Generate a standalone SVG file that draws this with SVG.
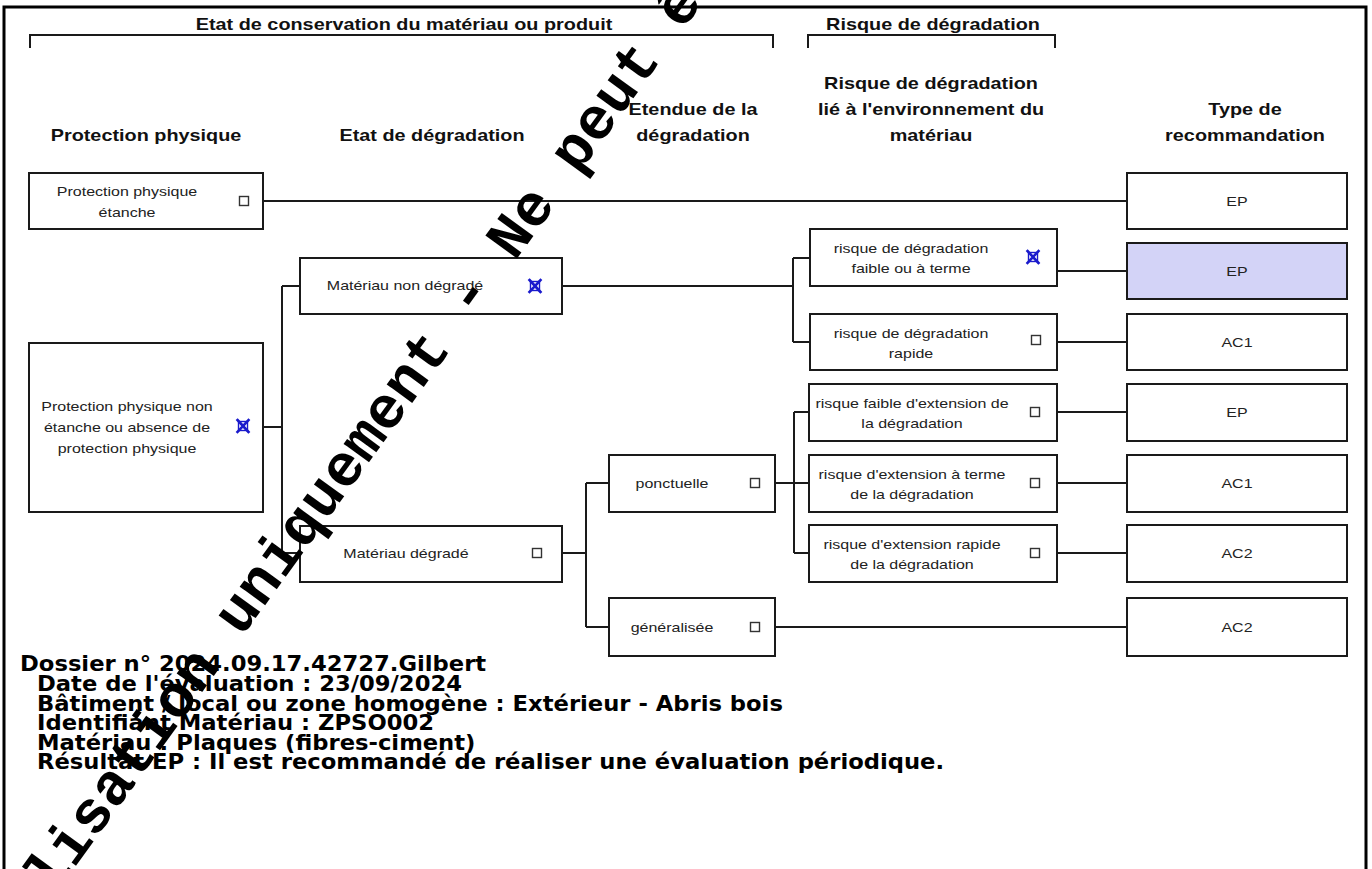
<svg xmlns="http://www.w3.org/2000/svg" xmlns:xlink="http://www.w3.org/1999/xlink" width="1372" height="869" viewBox="0 0 1372 869">
<style>
.box{fill:#fff;stroke:#1a1a1a;stroke-width:2}
.sel{fill:#d3d3f7}
.conn{stroke:#1a1a1a;stroke-width:2;fill:none}
.t{font-family:"Liberation Sans",Arial,sans-serif;font-size:13px;fill:#222;text-anchor:middle}
.h{font-family:"Liberation Sans",Arial,sans-serif;font-size:16px;font-weight:bold;fill:#111;text-anchor:middle}
.cb{fill:#fff;stroke:#333;stroke-width:1.4}
.x{stroke:#1a1acc;stroke-width:2.6;fill:none;stroke-linecap:square}
.xb{fill:none;stroke:#1a1acc;stroke-width:1.4}
.info{font-family:"DejaVu Sans",Verdana,sans-serif;font-size:21px;font-weight:bold;fill:#000}
.wm{font-family:"Liberation Mono","DejaVu Sans Mono",monospace;font-size:59.5px;font-weight:bold;fill:#000}
.frame{fill:none;stroke:#000;stroke-width:3}
</style>
<defs>
<rect id="cb" class="cb" x="-4.5" y="-4.5" width="9" height="9"/>
<g id="cx"><rect class="xb" x="-4.5" y="-4.5" width="9" height="9"/><path class="x" d="M-5.5,-6 L5.5,6 M5.5,-6 L-5.5,6"/></g>
</defs>
<rect x="0" y="0" width="1372" height="869" fill="#fff"/>
<path class="frame" d="M4,869 V7 H1366 V869"/>

<g id="headers">
<path class="conn" d="M30,48 V35 H773 V48"/>
<path class="conn" d="M808,48 V35 H1055 V48"/>
<text class="h" transform="translate(404,30) scale(1.24,1)">Etat de conservation du matériau ou produit</text>
<text class="h" transform="translate(933,30) scale(1.24,1)">Risque de dégradation</text>
<text class="h" transform="translate(146,141) scale(1.24,1)">Protection physique</text>
<text class="h" transform="translate(432,141) scale(1.24,1)">Etat de dégradation</text>
<text class="h" transform="translate(693,115) scale(1.24,1)"><tspan x="0">Etendue de la</tspan><tspan x="0" dy="26">dégradation</tspan></text>
<text class="h" transform="translate(931,89) scale(1.24,1)"><tspan x="0">Risque de dégradation</tspan><tspan x="0" dy="26">lié à l'environnement du</tspan><tspan x="0" dy="26">matériau</tspan></text>
<text class="h" transform="translate(1245,115) scale(1.24,1)"><tspan x="0">Type de</tspan><tspan x="0" dy="26">recommandation</tspan></text>
</g>

<g id="connectors">
<path class="conn" d="M263,201 H1127"/>
<path class="conn" d="M263,427 H282 M282,286 V553 M282,286 H300 M282,553 H300"/>
<path class="conn" d="M562,286 H793 M793,258 V342 M793,258 H810 M793,342 H810"/>
<path class="conn" d="M1057,271 H1127 M1057,342 H1127"/>
<path class="conn" d="M562,553 H586 M586,483 V627 M586,483 H609 M586,627 H609"/>
<path class="conn" d="M775,483 H809 M794,412 V553 M794,412 H809 M794,553 H809"/>
<path class="conn" d="M1057,412 H1127 M1057,483 H1127 M1057,553 H1127"/>
<path class="conn" d="M775,627 H1127"/>
</g>

<g id="n-pp-etanche">
<rect class="box" x="29" y="173" width="234" height="56"/>
<text class="t" transform="translate(127,196) scale(1.23,1)"><tspan x="0">Protection physique</tspan><tspan x="0" dy="21">étanche</tspan></text>
<use xlink:href="#cb" transform="translate(244,201)"/>
</g>
<g id="n-pp-non-etanche">
<rect class="box" x="29" y="343" width="234" height="169"/>
<text class="t" transform="translate(127,411) scale(1.23,1)"><tspan x="0">Protection physique non</tspan><tspan x="0" dy="21">étanche ou absence de</tspan><tspan x="0" dy="21">protection physique</tspan></text>
<use xlink:href="#cx" transform="translate(243,426)"/>
</g>
<g id="n-mat-non-degrade">
<rect class="box" x="300" y="258" width="262" height="56"/>
<text class="t" transform="translate(405,290) scale(1.23,1)">Matériau non dégradé</text>
<use xlink:href="#cx" transform="translate(535,286)"/>
</g>
<g id="n-mat-degrade">
<rect class="box" x="300" y="526" width="262" height="56"/>
<text class="t" transform="translate(406,558) scale(1.23,1)">Matériau dégradé</text>
<use xlink:href="#cb" transform="translate(537,553)"/>
</g>
<g id="n-ponctuelle">
<rect class="box" x="609" y="455" width="166" height="57"/>
<text class="t" transform="translate(672,488) scale(1.23,1)">ponctuelle</text>
<use xlink:href="#cb" transform="translate(755,483)"/>
</g>
<g id="n-generalisee">
<rect class="box" x="609" y="598" width="166" height="58"/>
<text class="t" transform="translate(672,632) scale(1.23,1)">généralisée</text>
<use xlink:href="#cb" transform="translate(755,627)"/>
</g>
<g id="n-risque-faible">
<rect class="box" x="810" y="229" width="247" height="57"/>
<text class="t" transform="translate(911,253) scale(1.23,1)"><tspan x="0">risque de dégradation</tspan><tspan x="0" dy="20">faible ou à terme</tspan></text>
<use xlink:href="#cx" transform="translate(1033,257)"/>
</g>
<g id="n-risque-rapide">
<rect class="box" x="810" y="314" width="247" height="56"/>
<text class="t" transform="translate(911,338) scale(1.23,1)"><tspan x="0">risque de dégradation</tspan><tspan x="0" dy="20">rapide</tspan></text>
<use xlink:href="#cb" transform="translate(1036,340)"/>
</g>
<g id="n-ext-faible">
<rect class="box" x="809" y="384" width="248" height="57"/>
<text class="t" transform="translate(912,408) scale(1.23,1)"><tspan x="0">risque faible d'extension de</tspan><tspan x="0" dy="20">la dégradation</tspan></text>
<use xlink:href="#cb" transform="translate(1035,412)"/>
</g>
<g id="n-ext-terme">
<rect class="box" x="809" y="455" width="248" height="57"/>
<text class="t" transform="translate(912,479) scale(1.23,1)"><tspan x="0">risque d'extension à terme</tspan><tspan x="0" dy="20">de la dégradation</tspan></text>
<use xlink:href="#cb" transform="translate(1035,483)"/>
</g>
<g id="n-ext-rapide">
<rect class="box" x="809" y="525" width="248" height="57"/>
<text class="t" transform="translate(912,549) scale(1.23,1)"><tspan x="0">risque d'extension rapide</tspan><tspan x="0" dy="20">de la dégradation</tspan></text>
<use xlink:href="#cb" transform="translate(1035,553)"/>
</g>
<g id="n-rec-1"><rect class="box" x="1127" y="173" width="220" height="56"/><text class="t" transform="translate(1237,206) scale(1.23,1)">EP</text></g>
<g id="n-rec-2"><rect class="box sel" x="1127" y="243" width="220" height="56"/><text class="t" transform="translate(1237,276) scale(1.23,1)">EP</text></g>
<g id="n-rec-3"><rect class="box" x="1127" y="314" width="220" height="56"/><text class="t" transform="translate(1237,347) scale(1.23,1)">AC1</text></g>
<g id="n-rec-4"><rect class="box" x="1127" y="384" width="220" height="57"/><text class="t" transform="translate(1237,417) scale(1.23,1)">EP</text></g>
<g id="n-rec-5"><rect class="box" x="1127" y="455" width="220" height="57"/><text class="t" transform="translate(1237,488) scale(1.23,1)">AC1</text></g>
<g id="n-rec-6"><rect class="box" x="1127" y="525" width="220" height="57"/><text class="t" transform="translate(1237,558) scale(1.23,1)">AC2</text></g>
<g id="n-rec-7"><rect class="box" x="1127" y="598" width="220" height="58"/><text class="t" transform="translate(1237,632) scale(1.23,1)">AC2</text></g>

<g id="info">
<text class="info" transform="translate(20,671) scale(1.08,1)">Dossier n° 2024.09.17.42727.Gilbert</text>
<text class="info" transform="translate(37,691) scale(1.08,1)">Date de l'évaluation : 23/09/2024</text>
<text class="info" transform="translate(37,711) scale(1.08,1)">Bâtiment / local ou zone homogène : Extérieur - Abris bois</text>
<text class="info" transform="translate(37,730) scale(1.08,1)">Identifiant Matériau : ZPSO002</text>
<text class="info" transform="translate(37,750) scale(1.08,1)">Matériau : Plaques (fibres-ciment)</text>
<text class="info" transform="translate(37,769) scale(1.08,1)">Résultat EP : Il est recommandé de réaliser une évaluation périodique.</text>
</g>

<text class="wm" transform="translate(-10,984) rotate(-54)">utilisation uniquement - Ne peut être</text>
</svg>
